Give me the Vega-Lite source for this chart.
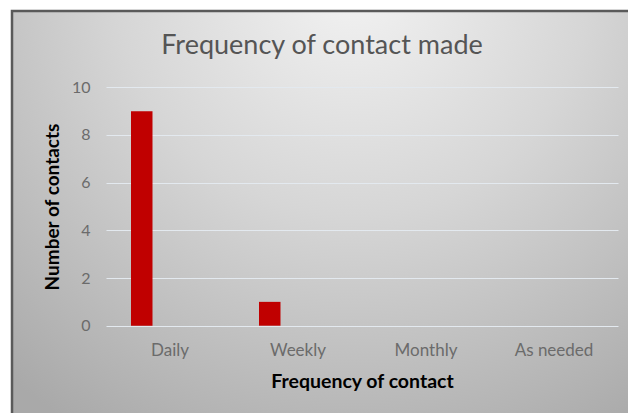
{
  "$schema": "https://vega.github.io/schema/vega-lite/v6.json",
  "autosize": {"type": "none"},
  "padding": {"left": 12, "top": 11, "right": 0, "bottom": 0},
  "width": 620,
  "height": 405,
  "background": "white",
  "view": {
    "fill": {
      "gradient": "radial",
      "x1": 0.55, "y1": 0.12, "r1": 0,
      "x2": 0.55, "y2": 0.12, "r2": 0.85,
      "stops": [
        {"offset": 0, "color": "#f3f3f3"},
        {"offset": 0.45, "color": "#d6d6d6"},
        {"offset": 1, "color": "#a9a9a9"}
      ]
    },
    "stroke": "#5a5a5a",
    "strokeWidth": 2.5
  },
  "title": {
    "text": "Frequency of contact made",
    "offset": -49,
    "fontSize": 27,
    "font": "Lato",
    "fontWeight": "normal",
    "color": "#555555",
    "anchor": "middle"
  },
  "data": {
    "values": [
      {"frequency": "Daily", "series": "Number of contacts", "count": 9},
      {"frequency": "Weekly", "series": "Number of contacts", "count": 1},
      {"frequency": "Monthly", "series": "Number of contacts", "count": 0},
      {"frequency": "As needed", "series": "Number of contacts", "count": 0}
    ]
  },
  "mark": {"type": "bar", "color": "#c00000"},
  "encoding": {
    "x": {
      "field": "frequency",
      "type": "nominal",
      "sort": ["Daily", "Weekly", "Monthly", "As needed"],
      "scale": {"range": [94, 606], "paddingInner": 0, "paddingOuter": 0},
      "axis": {
        "offset": -90.3,
        "domain": false,
        "ticks": false,
        "tickSize": 0,
        "grid": false,
        "labelAngle": 0,
        "labelFont": "Lato",
        "labelFontSize": 17,
        "labelColor": "#6b6b6b",
        "labelPadding": 17,
        "title": "Frequency of contact",
        "titleFont": "Lato",
        "titleFontSize": 19.5,
        "titleFontWeight": "bold",
        "titleColor": "#000000",
        "titlePadding": 14
      }
    },
    "xOffset": {
      "field": "series",
      "type": "nominal",
      "scale": {"paddingInner": 0.5962, "paddingOuter": 1, "align": 0.2347}
    },
    "y": {
      "field": "count",
      "type": "quantitative",
      "scale": {"domain": [0, 10], "range": [314.7, 76.3], "nice": false},
      "axis": {
        "offset": -94,
        "values": [0, 2, 4, 6, 8, 10],
        "domain": false,
        "ticks": false,
        "tickSize": 0,
        "grid": true,
        "gridColor": "#e3e9ef",
        "gridWidth": 1.2,
        "labelFont": "Lato",
        "labelFontSize": 16,
        "labelColor": "#6b6b6b",
        "labelPadding": 16,
        "title": "Number of contacts",
        "titleFont": "Lato",
        "titleFontSize": 19,
        "titleFontWeight": "bold",
        "titleColor": "#000000",
        "titlePadding": 9
      }
    }
  }
}
